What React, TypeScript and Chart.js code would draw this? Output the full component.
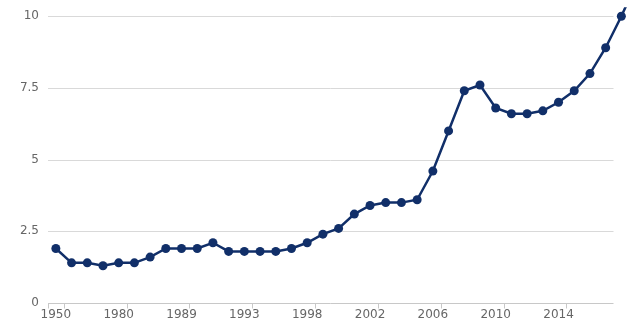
import React, { useEffect, useRef } from "react";
import { Chart, registerables } from "chart.js";

Chart.register(...registerables);

const categories = [
  "1950", "1960", "1970", "1975", "1980", "1982", "1985", "1987", "1989",
  "1990", "1991", "1992", "1993", "1994", "1995", "1997", "1998", "1999",
  "2000", "2001", "2002", "2003", "2004", "2005", "2006", "2007", "2008",
  "2009", "2010", "2011", "2012", "2013", "2014", "2015", "2016", "2017",
  "2018", "2019",
];

const values = [
  1.9, 1.4, 1.4, 1.3, 1.4, 1.4, 1.6, 1.9, 1.9,
  1.9, 2.1, 1.8, 1.8, 1.8, 1.8, 1.9, 2.1, 2.4,
  2.6, 3.1, 3.4, 3.5, 3.5, 3.6, 4.6, 6.0, 7.4,
  7.6, 6.8, 6.6, 6.6, 6.7, 7.0, 7.4, 8.0, 8.9,
  10.0, 11.2,
];

const labeledIndexes = [0, 4, 8, 12, 16, 20, 24, 28, 32];
const yTicks = [0, 2.5, 5, 7.5, 10];
const AXIS_END = 35.5;

const LINE_COLOR = "#112f69";
const TEXT_COLOR = "#666666";
const GRID_COLOR = "#d9d9d9";
const AXIS_COLOR = "#c8c8c8";

const axisDecor = {
  id: "axisDecor",
  beforeDatasetsDraw(chart: any) {
    const xs = chart.scales.x;
    const ys = chart.scales.y;
    const ctx = chart.ctx;
    const left = chart.chartArea.left;
    const right = xs.getPixelForValue(AXIS_END);
    const y0 = Math.round(ys.getPixelForValue(0)) + 0.5;
    ctx.save();
    ctx.lineWidth = 1;
    ctx.strokeStyle = GRID_COLOR;
    yTicks.slice(1).forEach((v) => {
      const py = Math.round(ys.getPixelForValue(v)) + 0.5;
      ctx.beginPath();
      ctx.moveTo(left, py);
      ctx.lineTo(right, py);
      ctx.stroke();
    });
    ctx.strokeStyle = AXIS_COLOR;
    ctx.beginPath();
    ctx.moveTo(left, y0);
    ctx.lineTo(right, y0);
    ctx.stroke();
    const positions = [-0.5, ...labeledIndexes.map((i) => i + 0.5)];
    positions.forEach((v) => {
      const px = Math.round(xs.getPixelForValue(v)) + 0.5;
      ctx.beginPath();
      ctx.moveTo(px, y0);
      ctx.lineTo(px, y0 + 5);
      ctx.stroke();
    });
    ctx.restore();
  },
};

export default function App() {
  const ref = useRef<HTMLCanvasElement | null>(null);

  useEffect(() => {
    if (!ref.current) return;
    const points = values.map((v, i) => ({ x: i, y: v }));
    const chart = new Chart(ref.current, {
      type: "line",
      data: {
        datasets: [
          {
            data: points,
            borderColor: LINE_COLOR,
            backgroundColor: LINE_COLOR,
            borderWidth: 2.5,
            pointRadius: 4.5,
            pointHoverRadius: 4.5,
            pointBorderWidth: 0,
            pointBackgroundColor: LINE_COLOR,
            tension: 0,
            clip: { left: 10, top: 9, right: 10, bottom: 10 } as any,
          },
        ],
      },
      plugins: [axisDecor],
      options: {
        responsive: false,
        animation: false,
        layout: { padding: { left: 0, top: 16, right: 0, bottom: 0 } },
        plugins: {
          legend: { display: false },
          tooltip: { enabled: false },
        },
        scales: {
          x: {
            type: "linear",
            min: -0.5,
            max: 36.9,
            afterBuildTicks: (scale: any) => {
              scale.ticks = labeledIndexes.map((v) => ({ value: v }));
            },
            afterFit: (scale: any) => {
              scale.height = 28;
            },
            grid: { display: false, drawTicks: false },
            border: { display: false },
            ticks: {
              autoSkip: false,
              maxRotation: 0,
              padding: 5,
              color: TEXT_COLOR,
              font: { family: "DejaVu Sans", size: 12 },
              callback: (v: any) => categories[Math.round(Number(v))] ?? "",
            },
          },
          y: {
            min: 0,
            max: 10,
            afterBuildTicks: (scale: any) => {
              scale.ticks = yTicks.map((v) => ({ value: v }));
            },
            afterFit: (scale: any) => {
              scale.width = 48;
            },
            grid: { display: false, drawTicks: false },
            border: { display: false },
            ticks: {
              padding: 9,
              color: TEXT_COLOR,
              font: { family: "DejaVu Sans", size: 12 },
              callback: (v: any) => String(v),
            },
          },
        },
      },
    });
    return () => chart.destroy();
  }, []);

  return (
    <div style={{ position: "fixed", left: 0, top: 0, width: 640, height: 331, background: "#fff" }}>
      <canvas ref={ref} width={640} height={331} style={{ display: "block" }} />
    </div>
  );
}
